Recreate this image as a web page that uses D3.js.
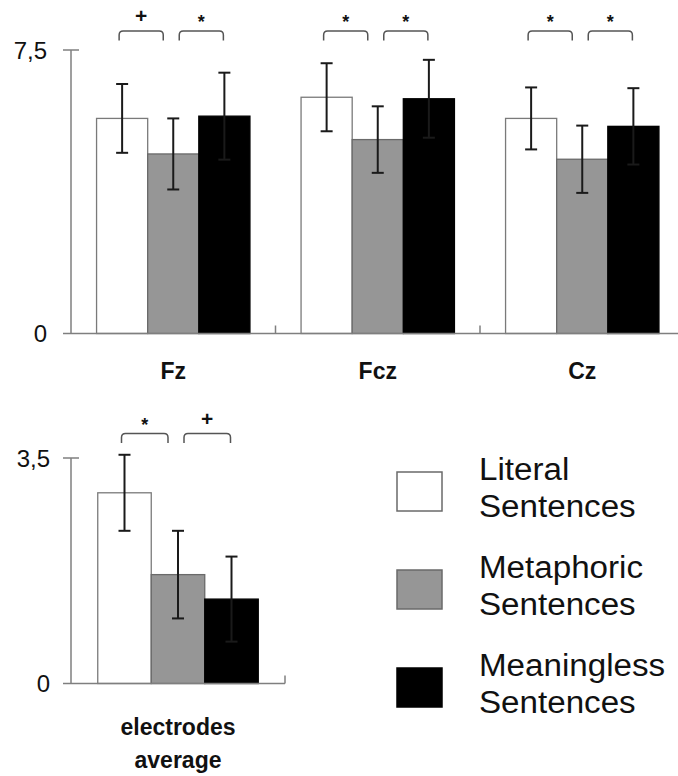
<!DOCTYPE html>
<html>
<head>
<meta charset="utf-8">
<script src="https://cdn.jsdelivr.net/npm/d3@7"></script>
<style>
  html, body { margin: 0; padding: 0; background: #fff; }
  svg { display: block; font-family: "Liberation Sans", Arial, sans-serif; }
</style>
</head>
<body>
<svg id="chart" width="678" height="776"></svg>
<script>
// Electrode sites and sentence conditions
const electrodes = ["Fz", "Fcz", "Cz"];
const conditions = ["Literal Sentences", "Metaphoric Sentences", "Meaningless Sentences"];

// Mean amplitude per electrode and condition
const literalMeans     = [5.69, 6.25, 5.69];
const metaphoricMeans  = [4.75, 5.13, 4.61];
const meaninglessMeans = [5.75, 6.21, 5.48];

// Standard errors per electrode and condition
const literalSE     = [0.91, 0.90, 0.82];
const metaphoricSE  = [0.94, 0.88, 0.89];
const meaninglessSE = [1.15, 1.03, 1.01];

// Average across electrodes (Literal, Metaphoric, Meaningless)
const averageMeans = [2.96, 1.69, 1.31];
const averageSE    = [0.59, 0.68, 0.66];

// Significance marks: [Literal vs Metaphoric, Metaphoric vs Meaningless]
const electrodeSignificance = [["+", "*"], ["*", "*"], ["*", "*"]];
const averageSignificance = ["*", "+"];

// Axis extents and tick labels
const topTicks = [0, 7.5];
const topTickLabels = ["0", "7,5"];
const bottomTicks = [0, 3.5];
const bottomTickLabels = ["0", "3,5"];
const averageCategory = ["electrodes average"];

const fills   = { "Literal Sentences": "#ffffff", "Metaphoric Sentences": "#969696", "Meaningless Sentences": "#000000" };
const strokes = { "Literal Sentences": "#7a7a7a", "Metaphoric Sentences": "#6a6a6a", "Meaningless Sentences": "#000000" };
const axisColor = "#7f7f7f";
const errColor = "#1a1a1a";
const bracketColor = "#555555";

const svg = d3.select("#chart");

const byElectrode = electrodes.map((e, i) => ({
  group: e,
  values: [
    { cond: conditions[0], mean: literalMeans[i], se: literalSE[i] },
    { cond: conditions[1], mean: metaphoricMeans[i], se: metaphoricSE[i] },
    { cond: conditions[2], mean: meaninglessMeans[i], se: meaninglessSE[i] }
  ],
  sig: electrodeSignificance[i]
}));

const averageData = [{
  group: averageCategory[0],
  values: conditions.map((c, i) => ({ cond: c, mean: averageMeans[i], se: averageSE[i] })),
  sig: averageSignificance
}];

function bracketPath(x1, x2, yTop, yBot) {
  const r = 4;
  return `M${x1},${yBot} L${x1},${yTop + r} Q${x1},${yTop} ${x1 + r},${yTop} ` +
         `L${x2 - r},${yTop} Q${x2},${yTop} ${x2},${yTop + r} L${x2},${yBot}`;
}

function drawPanel(opts) {
  const { data, x0, x1, yTop, yBase, maxVal, ticks, tickLabels, labelGap, bracketTop, axisEnd, endTick } = opts;
  const g = svg.append("g");

  const y = d3.scaleLinear().domain([0, maxVal]).range([yBase, yTop]);
  const xg = d3.scaleBand().domain(data.map(d => d.group)).range([x0, x1]).padding(0);
  const xc = d3.scaleBand().domain(conditions).range([0, xg.bandwidth()]).paddingInner(0).paddingOuter(0.5);

  // y axis line
  g.append("line")
    .attr("x1", x0).attr("x2", x0).attr("y1", y(maxVal)).attr("y2", y(0))
    .attr("stroke", axisColor).attr("stroke-width", 1.5);

  // top tick crossing the axis
  g.append("line")
    .attr("x1", x0 - 8).attr("x2", x0 + 8).attr("y1", y(maxVal)).attr("y2", y(maxVal))
    .attr("stroke", axisColor).attr("stroke-width", 1.5);

  // tick labels
  g.selectAll("text.ytick").data(ticks).enter().append("text")
    .attr("class", "ytick")
    .attr("x", x0 - labelGap).attr("y", d => y(d))
    .attr("dy", "0.36em")
    .attr("text-anchor", "end")
    .attr("font-size", 24)
    .attr("fill", "#111")
    .text((d, i) => tickLabels[i]);

  // groups of bars
  const groups = g.selectAll("g.grp").data(data).enter().append("g")
    .attr("class", "grp")
    .attr("transform", d => `translate(${xg(d.group)},0)`);

  groups.selectAll("rect").data(d => d.values).enter().append("rect")
    .attr("x", d => xc(d.cond))
    .attr("width", xc.bandwidth())
    .attr("y", d => y(d.mean))
    .attr("height", d => y(0) - y(d.mean))
    .attr("fill", d => fills[d.cond])
    .attr("stroke", d => strokes[d.cond])
    .attr("stroke-width", 1.3);

  // error bars
  const cap = 6;
  const eb = groups.selectAll("g.err").data(d => d.values).enter().append("g").attr("class", "err");
  eb.append("line")
    .attr("x1", d => xc(d.cond) + xc.bandwidth() / 2)
    .attr("x2", d => xc(d.cond) + xc.bandwidth() / 2)
    .attr("y1", d => y(d.mean + d.se))
    .attr("y2", d => y(d.mean - d.se))
    .attr("stroke", errColor).attr("stroke-width", 2);
  eb.append("line")
    .attr("x1", d => xc(d.cond) + xc.bandwidth() / 2 - cap)
    .attr("x2", d => xc(d.cond) + xc.bandwidth() / 2 + cap)
    .attr("y1", d => y(d.mean + d.se)).attr("y2", d => y(d.mean + d.se))
    .attr("stroke", errColor).attr("stroke-width", 2);
  eb.append("line")
    .attr("x1", d => xc(d.cond) + xc.bandwidth() / 2 - cap)
    .attr("x2", d => xc(d.cond) + xc.bandwidth() / 2 + cap)
    .attr("y1", d => y(d.mean - d.se)).attr("y2", d => y(d.mean - d.se))
    .attr("stroke", errColor).attr("stroke-width", 2);

  // x axis line
  g.append("line")
    .attr("x1", x0 - 8).attr("x2", axisEnd).attr("y1", y(0)).attr("y2", y(0))
    .attr("stroke", axisColor).attr("stroke-width", 1.5);

  // category separator ticks
  const seps = data.map(d => xg(d.group)).slice(1);
  if (endTick) seps.push(x1);
  g.selectAll("line.sep").data(seps).enter().append("line")
    .attr("class", "sep")
    .attr("x1", d => d).attr("x2", d => d)
    .attr("y1", y(0)).attr("y2", y(0) - 8)
    .attr("stroke", axisColor).attr("stroke-width", 1.5);

  // significance brackets
  const c = k => xc(conditions[k]) + xc.bandwidth() / 2;
  const pairs = [[c(0) - 3, c(1) - 10], [c(1) + 6, c(2) - 1]];
  groups.each(function (d) {
    const sel = d3.select(this);
    pairs.forEach((p, k) => {
      sel.append("path")
        .attr("d", bracketPath(p[0], p[1], bracketTop, bracketTop + 9.5))
        .attr("fill", "none").attr("stroke", bracketColor).attr("stroke-width", 1.5);
      const mark = d.sig[k];
      sel.append("text")
        .attr("x", (p[0] + p[1]) / 2)
        .attr("y", mark === "*" ? bracketTop - 3 : bracketTop - 8)
        .attr("text-anchor", "middle")
        .attr("font-size", mark === "*" ? 18 : 21)
        .attr("font-weight", "bold")
        .attr("fill", "#111")
        .text(mark);
    });
  });

  return { xg, y };
}

// Per-electrode panel
const topPanel = drawPanel({
  data: byElectrode, x0: 71, x1: 684.5, yTop: 50, yBase: 333.5, maxVal: 7.5,
  ticks: topTicks, tickLabels: topTickLabels, labelGap: 24,
  bracketTop: 31, axisEnd: 678, endTick: false
});

// electrode labels
svg.selectAll("text.elabel").data(electrodes).enter().append("text")
  .attr("class", "elabel")
  .attr("x", d => topPanel.xg(d) + topPanel.xg.bandwidth() / 2)
  .attr("y", 379)
  .attr("text-anchor", "middle")
  .attr("font-size", 23)
  .attr("font-weight", "bold")
  .attr("fill", "#111")
  .text(d => d);

// Average panel
const bottomPanel = drawPanel({
  data: averageData, x0: 71, x1: 285, yTop: 458, yBase: 683.5, maxVal: 3.5,
  ticks: bottomTicks, tickLabels: bottomTickLabels, labelGap: 21,
  bracketTop: 433.5, axisEnd: 285, endTick: true
});

const avgLabel = svg.append("text")
  .attr("x", bottomPanel.xg(averageCategory[0]) + bottomPanel.xg.bandwidth() / 2)
  .attr("y", 735)
  .attr("text-anchor", "middle")
  .attr("font-size", 23)
  .attr("font-weight", "bold")
  .attr("fill", "#111");
averageCategory[0].split(" ").forEach((w, i) => {
  avgLabel.append("tspan")
    .attr("x", bottomPanel.xg(averageCategory[0]) + bottomPanel.xg.bandwidth() / 2)
    .attr("dy", i === 0 ? 0 : 33)
    .text(w);
});

// Legend
const legend = svg.append("g").attr("transform", "translate(397,472)");
const items = legend.selectAll("g").data(conditions).enter().append("g")
  .attr("transform", (d, i) => `translate(0,${i * 98})`);
items.append("rect")
  .attr("width", 45).attr("height", 39)
  .attr("fill", d => fills[d])
  .attr("stroke", d => d === conditions[2] ? "#000" : "#6a6a6a")
  .attr("stroke-width", 1.5);
const ltext = items.append("text")
  .attr("transform", "translate(82,8) scale(1.07,1)")
  .attr("font-size", 31)
  .attr("fill", "#111");
ltext.each(function (d) {
  const t = d3.select(this);
  d.split(" ").forEach((w, i) => {
    t.append("tspan").attr("x", 0).attr("y", i * 37).text(w);
  });
});
</script>
</body>
</html>
